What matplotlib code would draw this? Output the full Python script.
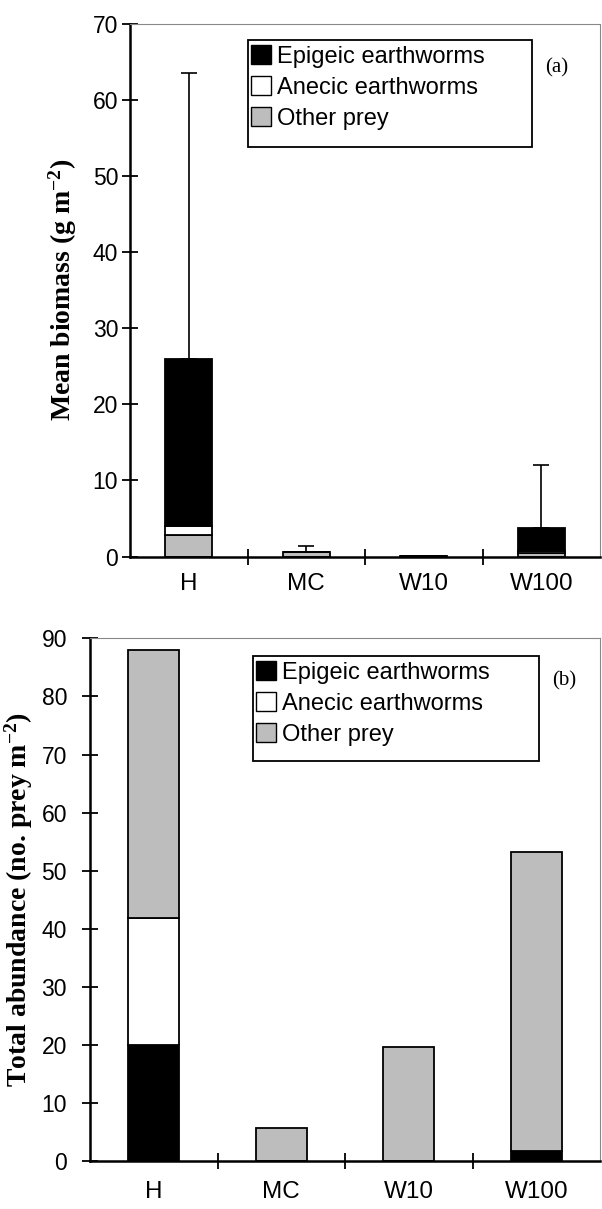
import numpy as np
import matplotlib.pyplot as plt
from matplotlib.patches import Patch, Rectangle

plt.rcParams['font.family'] = ['Liberation Sans', 'DejaVu Sans']
plt.rcParams['mathtext.fontset'] = 'custom'
plt.rcParams['mathtext.rm'] = 'Liberation Serif:bold'
plt.rcParams['mathtext.it'] = 'Liberation Serif:bold'
plt.rcParams['mathtext.bf'] = 'Liberation Serif:bold'

sites = ['H', 'MC', 'W10', 'W100']

# (a) mean biomass, g m-2
bio_other = [2.9, 0.6, 0.05, 0.5]
bio_anecic = [1.1, 0.0, 0.0, 0.3]
bio_epigeic = [22.0, 0.0, 0.0, 2.9]
bio_upper = [63.6, 1.4, None, 12.1]   # top of error bar

# (b) total abundance, no. prey m-2
ab_epigeic = [20.0, 0.0, 0.0, 1.7]
ab_anecic = [21.8, 0.0, 0.0, 0.0]
ab_other = [46.2, 5.7, 19.7, 51.6]

GREY = '#bdbdbd'
x = np.arange(len(sites))
W = 0.4
FW, FH = 602, 1209

fig = plt.figure(figsize=(FW / 100, FH / 100), dpi=100)


def box(l, t, r, b):
    # pixel box (from top-left) -> figure fraction rect
    return [l / FW, 1 - b / FH, (r - l) / FW, (b - t) / FH]


ax1 = fig.add_axes(box(130, 23.8, 600, 556.6))
ax2 = fig.add_axes(box(90, 638.4, 600, 1161))


def draw(ax, layers, ymax, ylabel, tag, leg_box, tag_xy, xpad, ypad):
    bottom = np.zeros(len(sites))
    for vals, col in layers:
        vals = np.array(vals)
        ax.bar(x, vals, W, bottom=bottom, color=col, edgecolor='black', linewidth=1.3)
        bottom = bottom + vals
    ax.set_xlim(-0.5, 3.5)
    ax.set_ylim(0, ymax)
    ax.set_yticks(np.arange(0, ymax + 1, 10))
    ax.set_xticks(x)
    ax.set_xticklabels(sites, fontsize=17.5)
    ax.set_xticks([0.5, 1.5, 2.5], minor=True)
    ax.tick_params(axis='x', which='major', length=0, pad=xpad)
    ax.tick_params(axis='x', which='minor', length=12, direction='inout', width=1.3)
    ax.tick_params(axis='y', length=11, width=1.3, direction='inout', labelsize=16.5, pad=ypad)
    for s in ['left', 'bottom']:
        ax.spines[s].set_linewidth(1.8)
    for s in ['top', 'right']:
        ax.spines[s].set_color('#888888')
        ax.spines[s].set_linestyle((0, (1, 1)))
        ax.spines[s].set_linewidth(0.8)
    ax.set_ylabel(ylabel, fontsize=20, family='Liberation Serif', fontweight='bold')
    handles = [Patch(facecolor='black', edgecolor='black', label='Epigeic earthworms'),
               Patch(facecolor='white', edgecolor='black', label='Anecic earthworms'),
               Patch(facecolor=GREY, edgecolor='black', label='Other prey')]
    l, t, r, b = leg_box
    fig.legend(handles=handles, loc='upper left',
               bbox_to_anchor=((l + 3) / FW, 1 - (t + 5) / FH),
               fontsize=17, frameon=False, handlelength=0.85,
               handleheight=0.85, handletextpad=0.25, borderpad=0,
               labelspacing=0.36, borderaxespad=0)
    fig.patches.append(Rectangle(box(*leg_box)[:2], *box(*leg_box)[2:],
                                 transform=fig.transFigure, fill=False,
                                 edgecolor='black', linewidth=1.3))
    ax.text(tag_xy[0], tag_xy[1], tag, transform=fig.transFigure, fontsize=15,
            family='Liberation Serif', ha='center', va='center')
    return bottom


tot = draw(ax1, [(bio_other, GREY), (bio_anecic, 'white'), (bio_epigeic, 'black')],
           70, 'Mean biomass (g m$^{-2}$)', '(a)', (248, 40, 532, 147),
           (557 / FW, 1 - 68 / FH), 12, 3)
for i, up in enumerate(bio_upper):
    if up is not None:
        ax1.errorbar(x[i], tot[i], yerr=[[0], [up - tot[i]]], fmt='none',
                     ecolor='black', elinewidth=1.2, capsize=6, capthick=1.2)
ax1.yaxis.set_label_coords(-0.108, 0.5)

draw(ax2, [(ab_epigeic, 'black'), (ab_anecic, 'white'), (ab_other, GREY)],
     90, 'Total abundance (no. prey m$^{-2}$)', '(b)', (253, 656, 539, 761),
     (564 / FW, 1 - 681 / FH), 14.5, 11)
ax2.yaxis.set_label_coords(-0.108, 0.5)

fig.savefig('out.png', dpi=100)
